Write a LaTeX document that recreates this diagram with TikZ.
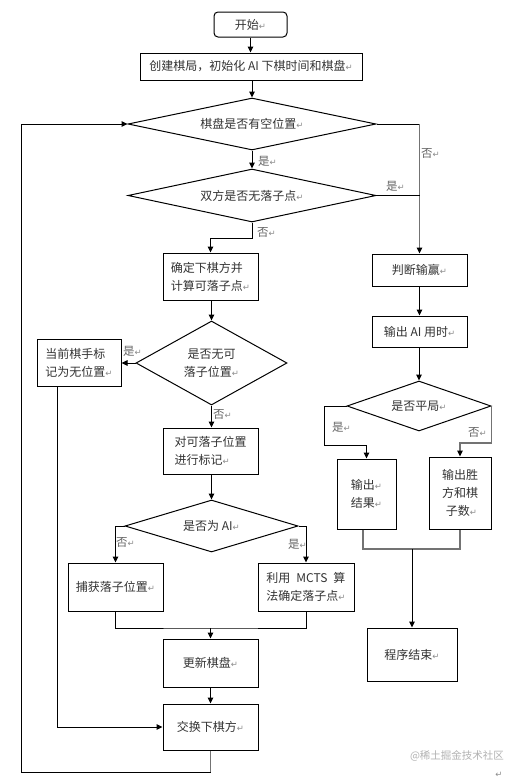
\documentclass[tikz,border=0pt]{standalone}
\usepackage{fontspec}
\setmainfont{Noto Sans CJK SC}
\newfontfamily\symfont{DejaVu Sans}
\usetikzlibrary{shapes.geometric,arrows.meta}
\newcommand\pmark{{\symfont\color{black!45}\fontsize{8.5}{8.5}\selectfont ↵}}
\begin{document}
\begin{tikzpicture}[x=1pt,y={(0pt,-1pt)},
  every node/.style={font=\fontsize{12}{18}\selectfont, text=black!80},
  box/.style={draw, line width=1pt, inner sep=0pt, align=center},
  dia/.style={draw, diamond, line width=1pt, inner sep=0pt, align=center},
  arr/.style={-{Triangle[length=6pt,width=5.5pt]}, line width=1pt},
  ln/.style={line width=1pt},
  gln/.style={line width=1.2pt, draw=black!55},
  garr/.style={-{Triangle[length=6pt,width=5.5pt,color=black]}, line width=1.2pt, draw=black!55},
  lbl/.style={anchor=west, inner sep=0pt, text=black!60, font=\fontsize{11.5}{11.5}\selectfont}
]
\useasboundingbox (0,0) rectangle (522,779);
\fill[white] (0,0) rectangle (522,779);

% nodes
\node[box, rounded corners=4pt, minimum width=73pt, minimum height=25pt] (start) at (250.5,24.5) {开始\pmark};
\node[box, minimum width=222pt, minimum height=27pt] (init) at (251,66.5) {创建棋局，初始化 AI 下棋时间和棋盘\pmark};
\node[dia, aspect=4.77, minimum width=248pt, minimum height=52pt] (d1) at (252,124) {棋盘是否有空位置\pmark};
\node[dia, aspect=4.68, minimum width=248pt, minimum height=53pt] (d2) at (252,195.5) {双方是否无落子点\pmark};
\node[box, minimum width=95pt, minimum height=47pt, align=left] (decide) at (210.5,276.5) {确定下棋方并\\计算可落子点\pmark};
\node[dia, aspect=1.8, minimum width=151pt, minimum height=84pt] (d3) at (211.5,363) {是否无可\\落子位置\pmark};
\node[box, minimum width=84pt, minimum height=47pt, align=left] (none) at (79,362.5) {当前棋手标\\记为无位置\pmark};
\node[box, minimum width=95pt, minimum height=46pt, align=left] (mark) at (210.5,451) {对可落子位置\\进行标记\pmark};
\node[dia, aspect=3.33, minimum width=173pt, minimum height=52pt] (d5) at (211.5,526) {是否为 AI\pmark};
\node[box, minimum width=95pt, minimum height=48pt] (cap) at (115.5,587) {捕获落子位置\pmark};
\node[box, minimum width=96pt, minimum height=48pt, align=left] (mcts) at (306,587) {利用\enspace MCTS\enspace 算\\法确定落子点\pmark};
\node[box, minimum width=95pt, minimum height=48pt] (upd) at (210.5,663) {更新棋盘\pmark};
\node[box, minimum width=95pt, minimum height=46pt] (swap) at (210.5,727) {交换下棋方\pmark};
\node[box, minimum width=95pt, minimum height=32pt] (judge) at (419.5,270) {判断输赢\pmark};
\node[box, minimum width=95pt, minimum height=31pt] (aitime) at (419.5,331.5) {输出 AI 用时\pmark};
\node[dia, aspect=2.88, minimum width=144pt, minimum height=50pt] (d4) at (419,406) {是否平局\pmark};
\node[box, minimum width=59pt, minimum height=70pt] (res) at (366.5,494) {输出\pmark\\结果\pmark};
\node[box, minimum width=62pt, minimum height=72pt] (win) at (460,493) {输出胜\\方和棋\\\ 子数\pmark};
\node[box, minimum width=90pt, minimum height=53pt] (fin) at (412,654.5) {程序结束\pmark};

% helper coordinates
\coordinate (m1) at (210.5,628);
\coordinate (m2) at (412,549);
\coordinate (lb) at (21,772);

% connectors
\draw[arr] (start.south) -- (start.south |- init.north);
\draw[arr] (d1.north |- init.south) -- (d1.north);
\draw[arr] (d1.south) -- (d2.north);
\draw[arr] (d2.south) -- ++(0,16) -| (decide.north);
\draw[ln] (d1.east) -- (d1.east -| judge.north);
\draw[garr] (d1.east -| judge.north) -- (judge.north);
\draw[ln] (d2.east) -- (d2.east -| judge.north);
\draw[arr] (decide.south -| d3.north) -- (d3.north);
\draw[arr] (d3.west) -- (d3.west -| none.east);
\draw[arr] (d3.south) -- (d3.south |- mark.north);
\draw[arr] (mark.south -| d5.north) -- (d5.north);
\draw[arr] (d5.west) -| (cap.north);
\draw[arr] (d5.east) -| (mcts.north);
\draw[ln] (cap.south) |- (m1) -| (mcts.south);
\draw[arr] (m1) -- (upd.north);
\draw[arr] (upd.south) -- (swap.north);
\draw[arr] ([xshift=-22pt]none.south) |- (swap.west);
\draw[gln] (swap.south) -- (swap.south |- lb);
\draw[arr] (swap.south |- lb) -- (lb) |- (d1.west);
\draw[arr] (judge.south) -- (aitime.north);
\draw[arr] (aitime.south -| d4.north) -- (d4.north);
\draw[arr] (d4.west) -- ++(-22,0) -- ++(0,39) -| (res.north);
\draw[garr] (d4.east) -- ++(0,37) -| (win.north);
\draw[gln] ([xshift=-3.5pt]res.south) |- (m2) -| (win.south);
\draw[arr] (m2) -- (fin.north);

% branch labels
\node[lbl] (l1) at (258,161) {是\pmark};
\node[lbl] (l2) at (421,153) {否\pmark};
\node[lbl] (l3) at (386,186) {是\pmark};
\node[lbl] (l4) at (257,232) {否\pmark};
\node[lbl] (l5) at (123,351) {是\pmark};
\node[lbl] (l6) at (213,414) {否\pmark};
\node[lbl] (l7) at (116,542) {否\pmark};
\node[lbl] (l8) at (288,544) {是\pmark};
\node[lbl] (l9) at (332,427) {是\pmark};
\node[lbl] (l10) at (468,432) {否\pmark};

% watermark
\node[text=black!30, font=\fontsize{10.5}{10.5}\selectfont] (wm) at (457,756) {@稀土掘金技术社区};
\node[inner sep=0pt] (pm) at (499,775) {\pmark};
\end{tikzpicture}
\end{document}
